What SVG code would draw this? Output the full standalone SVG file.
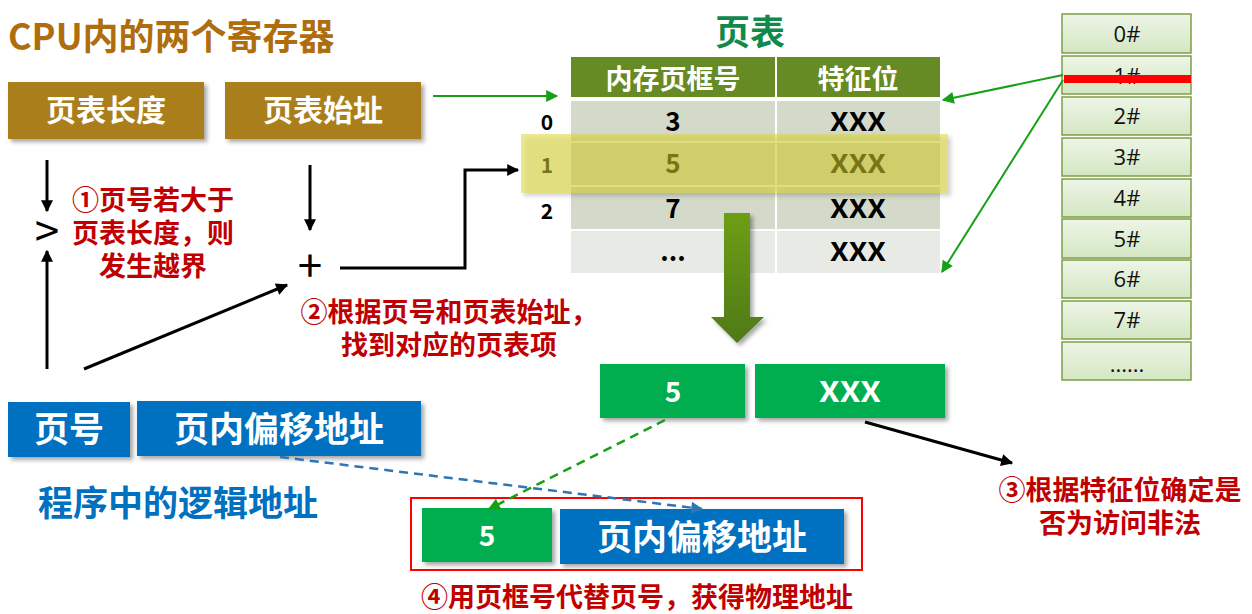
<svg xmlns="http://www.w3.org/2000/svg" width="1252" height="614" viewBox="0 0 1252 614">
<style>
text{font-family:"Noto Sans CJK SC","Noto Sans",sans-serif;}
.b{font-weight:bold;}
.wt{fill:#fff;font-weight:bold;text-anchor:middle;}
.red{fill:#C00000;font-weight:bold;font-size:27px;text-anchor:middle;}
.val{fill:#000;font-weight:bold;font-size:26px;text-anchor:middle;}
.mem{fill:url(#memg);stroke:#7E9E45;stroke-width:1.5;}
.memt{font-family:"Open Sans","Noto Sans",sans-serif;font-size:22px;fill:#111;text-anchor:middle;}
.blk{stroke:#000;stroke-width:3;fill:none;}
.grn{stroke:#17A017;stroke-width:2;fill:none;}
</style>
<defs>
<filter id="sh" x="-10%" y="-10%" width="130%" height="140%"><feDropShadow dx="3" dy="3" stdDeviation="2" flood-color="#000" flood-opacity="0.35"/></filter>
<linearGradient id="memg" x1="0" y1="0" x2="0" y2="1"><stop offset="0" stop-color="#EEF5E8"/><stop offset="1" stop-color="#D3E7C2"/></linearGradient>
<linearGradient id="arrg" x1="0" y1="0" x2="0" y2="1"><stop offset="0" stop-color="#6E9E12"/><stop offset="1" stop-color="#4E7A14"/></linearGradient>
<marker id="ab" viewBox="0 0 10 10" refX="9" refY="5" markerWidth="16" markerHeight="12" markerUnits="userSpaceOnUse" orient="auto"><path d="M0,0 L10,5 L0,10 z" fill="#000"/></marker>
<marker id="ag" viewBox="0 0 10 10" refX="9" refY="5" markerWidth="18" markerHeight="12" markerUnits="userSpaceOnUse" orient="auto"><path d="M0,0 L10,5 L0,10 z" fill="#17A017"/></marker>
<marker id="abl" viewBox="0 0 10 10" refX="9" refY="5" markerWidth="18" markerHeight="12" markerUnits="userSpaceOnUse" orient="auto"><path d="M0,0 L10,5 L0,10 z" fill="#2E75B6"/></marker>
</defs>

<text x="8" y="50" class="b" font-size="36" fill="#AF6E0D">CPU内的两个寄存器</text>

<g id="reg-len">
<rect x="8" y="82" width="196" height="57" fill="#AB7E1C" filter="url(#sh)"/>
<text x="106" y="121" class="wt" font-size="30">页表长度</text>
</g>
<g id="reg-base">
<rect x="225" y="82" width="196" height="57" fill="#AB7E1C" filter="url(#sh)"/>
<text x="323" y="121" class="wt" font-size="30">页表始址</text>
</g>

<g id="page-table">
<text x="750" y="45" class="b" font-size="35" fill="#0F8A4A" text-anchor="middle">页表</text>
<rect x="571" y="57" width="204" height="40" fill="#668A24"/>
<rect x="777" y="57" width="163" height="40" fill="#668A24"/>
<text x="673" y="89" class="wt" font-size="27">内存页框号</text>
<text x="858" y="89" class="wt" font-size="27">特征位</text>
<rect x="571" y="101" width="204" height="40" fill="#D4DACA"/>
<rect x="777" y="101" width="163" height="40" fill="#D4DACA"/>
<rect x="571" y="143" width="204" height="42" fill="#D4DACA"/>
<rect x="777" y="143" width="163" height="42" fill="#D4DACA"/>
<rect x="571" y="187" width="204" height="42" fill="#D4DACA"/>
<rect x="777" y="187" width="163" height="42" fill="#D4DACA"/>
<rect x="571" y="231" width="204" height="42" fill="#E8EBE5"/>
<rect x="777" y="231" width="163" height="42" fill="#E8EBE5"/>
<text x="547" y="130" class="b" font-size="21" text-anchor="middle">0</text>
<text x="547" y="173" class="b" font-size="21" text-anchor="middle">1</text>
<text x="547" y="219" class="b" font-size="21" text-anchor="middle">2</text>
<text x="673" y="131" class="val">3</text>
<text x="673" y="173" class="val">5</text>
<text x="673" y="218" class="val">7</text>
<text x="673" y="261" class="val">...</text>
<text x="858" y="131" class="val" textLength="56" lengthAdjust="spacingAndGlyphs">XXX</text>
<text x="858" y="173" class="val" textLength="56" lengthAdjust="spacingAndGlyphs">XXX</text>
<text x="858" y="218" class="val" textLength="56" lengthAdjust="spacingAndGlyphs">XXX</text>
<text x="858" y="261" class="val" textLength="56" lengthAdjust="spacingAndGlyphs">XXX</text>
<rect x="521" y="134" width="427" height="59" fill="#DCD628" fill-opacity="0.5" filter="url(#sh)"/>
</g>

<g id="big-arrow">
<path d="M724,213 H750 V317 H764 L737,343 L711,317 H724 Z" fill="url(#arrg)" filter="url(#sh)"/>
</g>

<g id="memory">
<rect class="mem" x="1062" y="14" width="129" height="39"/><text class="memt" x="1127" y="42">0#</text>
<rect class="mem" x="1062" y="56" width="129" height="38"/><text class="memt" x="1127" y="84">1#</text>
<rect x="1064" y="75" width="127" height="8" fill="#FF0000"/>
<rect class="mem" x="1062" y="97" width="129" height="38"/><text class="memt" x="1127" y="124">2#</text>
<rect class="mem" x="1062" y="138" width="129" height="38"/><text class="memt" x="1127" y="165">3#</text>
<rect class="mem" x="1062" y="179" width="129" height="38"/><text class="memt" x="1127" y="206">4#</text>
<rect class="mem" x="1062" y="219" width="129" height="39"/><text class="memt" x="1127" y="247">5#</text>
<rect class="mem" x="1062" y="260" width="129" height="38"/><text class="memt" x="1127" y="287">6#</text>
<rect class="mem" x="1062" y="301" width="129" height="38"/><text class="memt" x="1127" y="328">7#</text>
<rect class="mem" x="1062" y="342" width="129" height="38"/><text class="memt" x="1127" y="372">......</text>
</g>

<g id="entry">
<rect x="600" y="364" width="145" height="54" fill="#00AE50" filter="url(#sh)"/>
<text x="673" y="402" class="wt" font-size="28">5</text>
<rect x="755" y="364" width="190" height="54" fill="#00AE50" filter="url(#sh)"/>
<text x="850" y="402" class="wt" font-size="28" textLength="62" lengthAdjust="spacingAndGlyphs">XXX</text>
</g>

<g id="logical-addr">
<rect x="8" y="402" width="122" height="55" fill="#0070C0" filter="url(#sh)"/>
<text x="69" y="442" class="wt" font-size="35">页号</text>
<rect x="137" y="401" width="284" height="55" fill="#0070C0" filter="url(#sh)"/>
<text x="279" y="442" class="wt" font-size="35">页内偏移地址</text>
<text x="178" y="516" class="b" font-size="35" fill="#0070C0" text-anchor="middle">程序中的逻辑地址</text>
</g>

<g id="physical-addr">
<rect x="411" y="498" width="451" height="72" fill="none" stroke="#FF0000" stroke-width="2"/>
<rect x="422" y="508" width="130" height="54" fill="#00AE50" filter="url(#sh)"/>
<text x="487" y="546" class="wt" font-size="28">5</text>
<rect x="560" y="509" width="284" height="55" fill="#0070C0" filter="url(#sh)"/>
<text x="702" y="550" class="wt" font-size="35">页内偏移地址</text>
</g>

<g id="labels">
<text class="red"><tspan x="153" y="210">①页号若大于</tspan><tspan x="153" y="243">页表长度，则</tspan><tspan x="153" y="276">发生越界</tspan></text>
<text class="red" font-size="26"><tspan x="449" y="322">②根据页号和页表始址，</tspan><tspan x="449" y="355">找到对应的页表项</tspan></text>
<text class="red"><tspan x="1120" y="500">③根据特征位确定是</tspan><tspan x="1120" y="533">否为访问非法</tspan></text>
<text class="red" x="637" y="607">④用页框号代替页号，获得物理地址</text>
<text x="47" y="247" font-family="Liberation Sans,sans-serif" font-size="44" text-anchor="middle" fill="#000">&gt;</text>
<text x="310" y="282" font-family="Liberation Sans,sans-serif" font-size="44" text-anchor="middle" fill="#000">+</text>
</g>

<g id="connectors">
<line class="grn" x1="433" y1="96" x2="557" y2="96" marker-end="url(#ag)"/>
<line class="grn" x1="1063" y1="75" x2="943" y2="100" marker-end="url(#ag)"/>
<line class="grn" x1="1063" y1="80" x2="942" y2="272" marker-end="url(#ag)"/>
<line class="blk" x1="47" y1="160" x2="47" y2="211" marker-end="url(#ab)"/>
<line class="blk" x1="47" y1="369" x2="47" y2="251" marker-end="url(#ab)"/>
<line class="blk" x1="310" y1="165" x2="310" y2="230" marker-end="url(#ab)"/>
<line class="blk" x1="84" y1="369" x2="287" y2="285" marker-end="url(#ab)"/>
<path class="blk" d="M340,268 H465 V170 H518" marker-end="url(#ab)"/>
<line x1="865" y1="422" x2="1012" y2="463" stroke="#000" stroke-width="3" marker-end="url(#ab)"/>
<line x1="665" y1="420" x2="489" y2="509" stroke="#17A017" stroke-width="2.5" stroke-dasharray="9,6" marker-end="url(#ag)"/>
<line x1="280" y1="457" x2="702" y2="509" stroke="#2E75B6" stroke-width="2.5" stroke-dasharray="9,6" marker-end="url(#abl)"/>
</g>
</svg>
